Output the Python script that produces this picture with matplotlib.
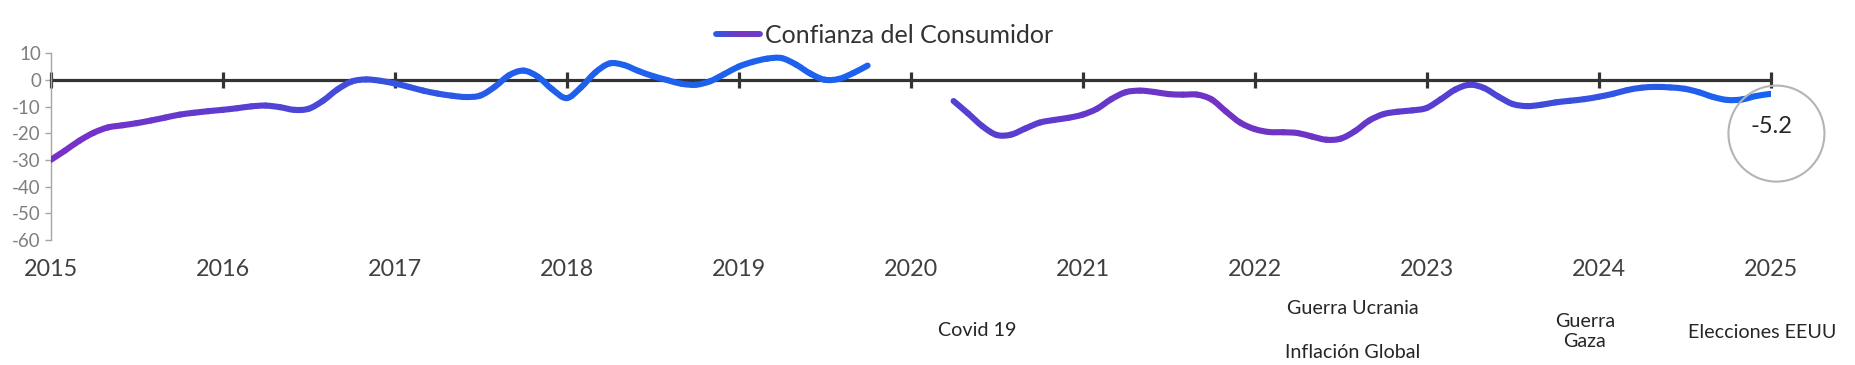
import numpy as np
import matplotlib
matplotlib.use("Agg")
import matplotlib.pyplot as plt
from matplotlib.collections import LineCollection, PathCollection
from matplotlib.colors import LinearSegmentedColormap, Normalize
from matplotlib.legend_handler import HandlerBase
from matplotlib.patches import Ellipse
from matplotlib.path import Path
import matplotlib.transforms as mtransforms

plt.rcParams['font.family'] = ['Lato', 'DejaVu Sans']
plt.rcParams['axes.unicode_minus'] = False

# monthly values, 2015-01 .. 2019-10
conf_2015_2019 = [
    -30.0, -26.5, -22.8, -19.8, -17.8, -17.0, -16.2, -15.2, -14.1, -13.0, -12.3, -11.7,
    -11.2, -10.6, -9.9, -9.6, -10.2, -11.2, -10.8, -7.8, -3.6, -0.6, 0.2, -0.3,
    -1.3, -2.6, -4.0, -5.1, -5.9, -6.4, -5.8, -2.5, 1.8, 3.5, 1.2, -3.5,
    -6.8, -2.8, 2.8, 6.2, 5.6, 3.4, 1.5, 0.0, -1.4, -1.8, -0.5, 2.2,
    5.0, 6.8, 8.0, 8.2, 5.8, 2.4, 0.1, 0.4, 2.6, 5.4,
]
# monthly values, 2020-04 .. 2025-01
conf_2020_2025 = [
    -7.9, -12.5, -17.3, -20.6, -20.5, -18.2, -16.0, -15.0, -14.2,
    -13.0, -10.8, -7.2, -4.6, -4.0, -4.5, -5.3, -5.5, -5.5, -7.3, -11.8, -16.0,
    -18.4, -19.5, -19.6, -19.9, -21.2, -22.4, -22.0, -19.2, -15.2, -12.8, -11.9, -11.4,
    -10.5, -7.2, -3.6, -1.8, -3.0, -6.2, -9.0, -9.8, -9.3, -8.4, -7.8, -7.2,
    -6.3, -5.2, -3.8, -2.9, -2.6, -2.8, -3.3, -4.6, -6.4, -7.5, -7.3, -6.0,
    -5.2,
]
start_1 = 2015.0
start_2 = 2020.25

years = list(range(2015, 2026))
year_labels = [str(y) for y in years]
yticks = [10, 0, -10, -20, -30, -40, -50, -60]

events = ["Covid 19", "Guerra Ucrania", "Inflación Global", "Guerra\nGaza", "Elecciones EEUU"]
event_x = [2020.39, 2022.57, 2022.57, 2023.92, 2024.95]
event_ypx = [331, 309, 353, 331.5, 332]

legend_label = "Confianza del Consumidor"

# gradient along time, as in the original line fill
grad = LinearSegmentedColormap.from_list("conf", [
    (0.00, "#7a2fc8"), (0.10, "#5e3cd0"), (0.20, "#3652e0"), (0.28, "#1e60ec"),
    (0.475, "#1d62ee"), (0.525, "#5242d2"), (0.60, "#6438cc"), (0.68, "#7232c4"),
    (0.74, "#6c35c6"), (0.80, "#5a3dd0"), (0.86, "#4648d8"), (0.92, "#2c58e6"),
    (1.00, "#1565f5"),
])
legend_grad = LinearSegmentedColormap.from_list(
    "leg", ["#2a5ce8", "#5a42d4", "#7a35c0", "#6a3ccc"])
norm = Normalize(2015, 2025)

W, H = 1855, 365
fig = plt.figure(figsize=(W / 100, H / 100), dpi=100)
ax = fig.add_axes([50.6 / W, 1 - 240 / H, 1720 / W, (240 - 53.3) / H])
ax.set_xlim(2015, 2025)
ax.set_ylim(-60, 10)


def smooth_pieces(start, vals):
    # one cubic bezier per month, like a spreadsheet "smoothed line"
    x = start + np.arange(len(vals)) / 12.0
    p = np.column_stack([x, vals])
    tan = np.empty_like(p)
    tan[1:-1] = (p[2:] - p[:-2]) / 2
    tan[0] = p[1] - p[0]
    tan[-1] = p[-1] - p[-2]
    paths = []
    for i in range(len(p) - 1):
        verts = [p[i], p[i] + tan[i] / 3, p[i + 1] - tan[i + 1] / 3, p[i + 1]]
        paths.append(Path(verts, [Path.MOVETO, Path.CURVE4, Path.CURVE4, Path.CURVE4]))
    return paths, (x[:-1] + x[1:]) / 2


for start, vals in [(start_1, conf_2015_2019), (start_2, conf_2020_2025)]:
    paths, mid = smooth_pieces(start, vals)
    pc = PathCollection(paths, facecolors='none', edgecolors=grad(norm(mid)),
                        linewidths=4.4, transform=ax.transData, zorder=3)
    pc.set_capstyle('round')
    pc.set_joinstyle('round')
    ax.add_collection(pc, autolim=False)

# zero line with year ticks
ax.axhline(0, color="#333333", lw=2.3, zorder=2)
ax.plot(years, [0] * len(years), linestyle='none', marker='|', markersize=12,
        mew=2.3, color="#333333", zorder=2, clip_on=False)

# axes styling
for s in ['top', 'right', 'bottom']:
    ax.spines[s].set_visible(False)
ax.spines['left'].set_color("#a6a6a6")
ax.spines['left'].set_linewidth(1.0)
ax.set_yticks(yticks)
ax.set_yticklabels([str(v) for v in yticks])
ax.tick_params(axis='y', colors="#a6a6a6", labelcolor="#7f7f7f", length=4,
               width=1, labelsize=13.5, pad=3)
ax.set_xticks(years)
ax.set_xticklabels(year_labels)
ax.tick_params(axis='x', length=0, pad=14, labelsize=16.8, labelcolor="#404040")

# last value highlight
last_x = start_2 + (len(conf_2020_2025) - 1) / 12.0
last_v = conf_2020_2025[-1]
ax.add_patch(Ellipse((last_x + 0.034, -20.1), 96 / 172.0, 96 / 2.667, fill=False,
                     edgecolor="#b4b4b4", lw=1.5, clip_on=False, zorder=4))
ax.text(last_x + 0.005, -17.5, f"{last_v:.1f}", ha='center', va='center',
        fontsize=17, color="#262626", clip_on=False, zorder=5)

# event annotations under the axis
trans = mtransforms.blended_transform_factory(ax.transData, fig.transFigure)
for lab, x, ypx in zip(events, event_x, event_ypx):
    ax.text(x, 1 - ypx / H, lab, transform=trans, ha='center', va='center',
            fontsize=14.2, color="#262626", linespacing=1.2, clip_on=False)


# legend with a gradient handle
class HandlerGrad(HandlerBase):
    def create_artists(self, legend, orig_handle, xdescent, ydescent, width,
                       height, fontsize, trans):
        xs = np.linspace(0, width, 30)
        ym = height / 2.0
        pts = np.column_stack([xs, np.full_like(xs, ym)]).reshape(-1, 1, 2)
        segs = np.concatenate([pts[:-1], pts[1:]], axis=1)
        cols = [legend_grad(v) for v in np.linspace(0.0, 1.0, len(segs))]
        lc = LineCollection(segs, colors=cols, linewidths=4.2, capstyle='round',
                            transform=trans)
        return [lc]


proxy = LineCollection([], label=legend_label)
fig.legend([proxy], [legend_label], handler_map={LineCollection: HandlerGrad()},
           loc='center', bbox_to_anchor=(884.5 / W, 1 - 35.6 / H), frameon=False,
           fontsize=18, handlelength=1.75, handletextpad=0.2, labelcolor="#333333")

fig.savefig("out.png", dpi=100)
